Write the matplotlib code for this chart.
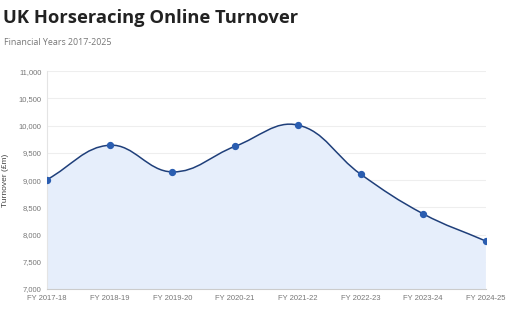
import numpy as np
import matplotlib
matplotlib.use("Agg")
import matplotlib.pyplot as plt
from matplotlib.path import Path
from matplotlib.patches import PathPatch

years = ["FY 2017-18", "FY 2018-19", "FY 2019-20", "FY 2020-21",
         "FY 2021-22", "FY 2022-23", "FY 2023-24", "FY 2024-25"]
turnover = [9010, 9640, 9150, 9620, 10010, 9110, 8380, 7880]
y_ticks = [7000, 7500, 8000, 8500, 9000, 9500, 10000, 10500, 11000]

line_col = "#1f3f7a"
dot_col = "#2a5db0"
fill_col = "#e6eefb"

plt.rcParams["font.family"] = ["Liberation Sans", "DejaVu Sans"]

fig = plt.figure(figsize=(5.12, 3.19), dpi=100)
ax = fig.add_axes([0.092, 0.094, 0.857, 0.683])
x = np.arange(len(years))
ax.set_xlim(0, len(years) - 1)
ax.set_ylim(7000, 11000)

# chart.js style smooth curve (tension 0.4), computed in pixel space
pts = ax.transData.transform(np.column_stack([x, turnover]))
t = 0.4
n = len(pts)
cp_prev = pts.copy()
cp_next = pts.copy()
for i in range(n):
    p0 = pts[max(i - 1, 0)]
    p1 = pts[i]
    p2 = pts[min(i + 1, n - 1)]
    d01 = np.hypot(*(p1 - p0))
    d12 = np.hypot(*(p2 - p1))
    s01 = d01 / (d01 + d12) if d01 + d12 else 0
    s12 = d12 / (d01 + d12) if d01 + d12 else 0
    cp_prev[i] = p1 - t * s01 * (p2 - p0)
    cp_next[i] = p1 + t * s12 * (p2 - p0)

verts = [pts[0]]
codes = [Path.MOVETO]
for i in range(n - 1):
    verts += [cp_next[i], cp_prev[i + 1], pts[i + 1]]
    codes += [Path.CURVE4] * 3
inv = ax.transData.inverted()
verts_d = inv.transform(np.array(verts))

fill_verts = list(verts_d) + [(x[-1], 7000), (x[0], 7000), verts_d[0]]
fill_codes = codes + [Path.LINETO, Path.LINETO, Path.CLOSEPOLY]
ax.add_patch(PathPatch(Path(fill_verts, fill_codes), facecolor=fill_col,
                       edgecolor="none", zorder=1))
ax.add_patch(PathPatch(Path(verts_d, codes), facecolor="none",
                       edgecolor=line_col, lw=1.1, zorder=2))
ax.scatter(x, turnover, s=18, color=dot_col, zorder=3)

ax.set_yticks(y_ticks)
ax.set_yticklabels([f"{v:,}" for v in y_ticks])
ax.set_xticks(x)
ax.set_xticklabels(years)
ax.tick_params(labelsize=5.5, colors="#777777", length=0, pad=4)
ax.grid(axis="y", color="#eeeeee", lw=0.8)
ax.set_axisbelow(True)
for s in ["top", "right"]:
    ax.spines[s].set_visible(False)
ax.spines["left"].set_color("#e4e4e4")
ax.spines["bottom"].set_color("#cccccc")
ax.set_ylabel("Turnover (£m)", fontsize=6, color="#444444")
ax.yaxis.set_label_coords(-0.087, 0.5)

fig.text(0.006, 0.945, "UK Horseracing Online Turnover", fontsize=13.2,
         fontweight="bold", color="#222222", va="center", family="Open Sans")
fig.text(0.008, 0.866, "Financial Years 2017-2025", fontsize=6.4,
         color="#777777", va="center", family="Open Sans")

fig.savefig("out.png", dpi=100)
